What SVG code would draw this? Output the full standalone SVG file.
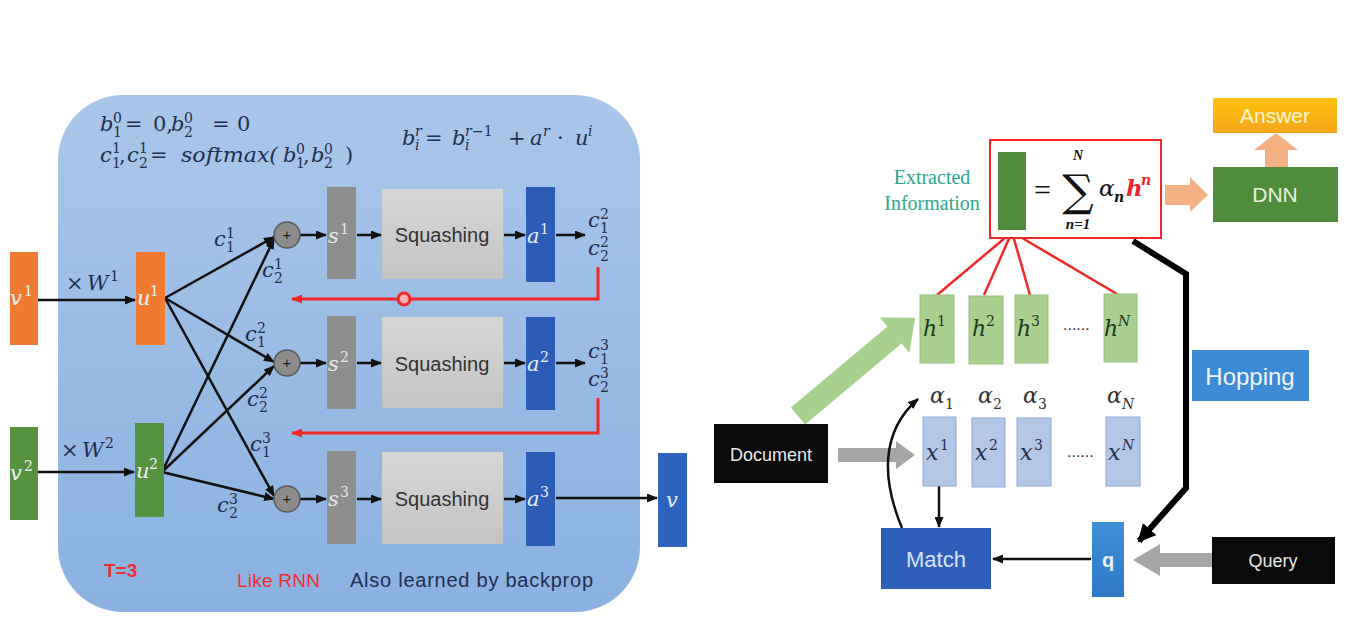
<svg xmlns="http://www.w3.org/2000/svg" width="1355" height="642" viewBox="0 0 1355 642">
<defs>
<linearGradient id="gPanel" x1="0" y1="0" x2="0" y2="1"><stop offset="0" stop-color="#a9c7ea"/><stop offset="1" stop-color="#8ab1e0"/></linearGradient>
<linearGradient id="gSq" x1="0" y1="0" x2="0" y2="1"><stop offset="0" stop-color="#d6d6d6"/><stop offset="1" stop-color="#c4c4c4"/></linearGradient>
<linearGradient id="gAns" x1="0" y1="0" x2="0" y2="1"><stop offset="0" stop-color="#ffc20e"/><stop offset="1" stop-color="#f4a51c"/></linearGradient>
<linearGradient id="gQ" x1="0" y1="0" x2="0" y2="1"><stop offset="0" stop-color="#3f8fd8"/><stop offset="1" stop-color="#2f78c6"/></linearGradient>
<marker id="ah" markerUnits="userSpaceOnUse" markerWidth="11" markerHeight="9" refX="10" refY="4.5" orient="auto"><path d="M0,0 L11,4.5 L0,9 z" fill="#111"/></marker>
<marker id="ahr" markerUnits="userSpaceOnUse" markerWidth="11" markerHeight="9" refX="10" refY="4.5" orient="auto"><path d="M0,0 L11,4.5 L0,9 z" fill="#f02828"/></marker>
<marker id="ahB" markerUnits="userSpaceOnUse" markerWidth="18" markerHeight="18" refX="16" refY="9" orient="auto"><path d="M0,0 L18,9 L0,18 z" fill="#000"/></marker>
<style>
.m{font-family:"DejaVu Serif",serif;font-style:italic;font-size:21px;fill:#1f2f4f}
.d{font-family:"DejaVu Serif",serif;font-style:normal;font-size:21px;fill:#1f2f4f}
.s{font-size:14px}
.w{fill:#eef2fa}
.sq{font-family:"Liberation Sans",sans-serif;font-size:20px;fill:#333;text-anchor:middle}
.sans{font-family:"Liberation Sans",sans-serif;text-anchor:middle}
.k{stroke:#111;stroke-width:2.5;fill:none}
.r{stroke:#f02828;stroke-width:3;fill:none}
.hb{fill:#a9d08e;stroke:#95c07a;stroke-width:1}
.xb{fill:#b4c7e7;stroke:#8eaadb;stroke-width:1}
.hl{font-family:"DejaVu Serif",serif;font-style:italic;font-size:22px;fill:#1e3a1e}
.xl{font-family:"DejaVu Serif",serif;font-style:italic;font-size:22px;fill:#1f2f4f}
.al{font-family:"DejaVu Serif",serif;font-style:italic;font-size:22px;fill:#333}
</style>
</defs>
<rect width="1355" height="642" fill="#fff"/>

<g id="panel">
<rect x="58" y="95" width="582" height="517" rx="65" fill="url(#gPanel)"/>
</g>

<g id="formulas">
<text class="m" x="100" y="131">b</text><text class="d s" x="113" y="123">0</text><text class="d s" x="113" y="137">1</text>
<text class="d" x="125" y="131">=</text><text class="d" x="153" y="131">0,</text>
<text class="m" x="171" y="131">b</text><text class="d s" x="184" y="123">0</text><text class="d s" x="184" y="137">2</text>
<text class="d" x="212" y="131">=</text><text class="d" x="237" y="131">0</text>

<text class="m" x="100" y="162">c</text><text class="d s" x="112" y="153">1</text><text class="d s" x="112" y="168">1</text>
<text class="d" x="119" y="162">,</text>
<text class="m" x="127" y="162">c</text><text class="d s" x="139" y="153">1</text><text class="d s" x="139" y="168">2</text>
<text class="d" x="150" y="162">=</text>
<text class="m" x="181" y="162" textLength="97" lengthAdjust="spacingAndGlyphs">softmax(</text>
<text class="m" x="283" y="162">b</text><text class="d s" x="296" y="154">0</text><text class="d s" x="296" y="168">1</text>
<text class="d" x="303" y="162">,</text>
<text class="m" x="311" y="162">b</text><text class="d s" x="324" y="154">0</text><text class="d s" x="324" y="168">2</text>
<text class="d" x="345" y="162">)</text>

<text class="m" x="402" y="145">b</text><text class="m s" x="415" y="136">r</text><text class="m s" x="415" y="150">i</text>
<text class="d" x="425" y="145">=</text>
<text class="m" x="452" y="145">b</text><text class="m s" x="465" y="136">r</text><text class="d s" x="472" y="136">−1</text><text class="m s" x="465" y="150">i</text>
<text class="d" x="508" y="145">+</text>
<text class="m" x="530" y="145">a</text><text class="m s" x="543" y="136">r</text>
<text class="d" x="557" y="145">·</text>
<text class="m" x="575" y="145">u</text><text class="m s" x="588" y="136">i</text>
</g>

<g id="connectors">
<line class="k" x1="38" y1="300" x2="135" y2="300" marker-end="url(#ah)"/>
<line class="k" x1="38" y1="472" x2="134" y2="472" marker-end="url(#ah)"/>
<line class="k" x1="165" y1="298" x2="274" y2="237" marker-end="url(#ah)"/>
<line class="k" x1="165" y1="298" x2="274" y2="362" marker-end="url(#ah)"/>
<line class="k" x1="165" y1="298" x2="274" y2="496" marker-end="url(#ah)"/>
<line class="k" x1="162" y1="472" x2="274" y2="239" marker-end="url(#ah)"/>
<line class="k" x1="162" y1="472" x2="274" y2="366" marker-end="url(#ah)"/>
<line class="k" x1="162" y1="472" x2="274" y2="499" marker-end="url(#ah)"/>
<line class="k" x1="300" y1="235" x2="326" y2="235" marker-end="url(#ah)"/>
<line class="k" x1="300" y1="363" x2="326" y2="363" marker-end="url(#ah)"/>
<line class="k" x1="300" y1="499" x2="326" y2="499" marker-end="url(#ah)"/>
<line class="k" x1="357" y1="235" x2="381" y2="235" marker-end="url(#ah)"/>
<line class="k" x1="357" y1="363" x2="381" y2="363" marker-end="url(#ah)"/>
<line class="k" x1="357" y1="499" x2="381" y2="499" marker-end="url(#ah)"/>
<line class="k" x1="504" y1="235" x2="525" y2="235" marker-end="url(#ah)"/>
<line class="k" x1="504" y1="363" x2="525" y2="363" marker-end="url(#ah)"/>
<line class="k" x1="504" y1="499" x2="525" y2="499" marker-end="url(#ah)"/>
<line class="k" x1="556" y1="235" x2="585" y2="235" marker-end="url(#ah)"/>
<line class="k" x1="556" y1="363" x2="585" y2="363" marker-end="url(#ah)"/>
<line class="k" x1="556" y1="498" x2="657" y2="498" marker-end="url(#ah)"/>
<path class="r" d="M598 267 V299 H292" marker-end="url(#ahr)"/>
<path class="r" d="M598 398 V433 H292" marker-end="url(#ahr)"/>
<circle cx="404" cy="299" r="6" fill="#ffb0b0" stroke="#f02828" stroke-width="3"/>

<line x1="1012" y1="232" x2="937" y2="295" stroke="#f02828" stroke-width="2.5"/>
<line x1="1012" y1="232" x2="984" y2="295" stroke="#f02828" stroke-width="2.5"/>
<line x1="1012" y1="232" x2="1030" y2="295" stroke="#f02828" stroke-width="2.5"/>
<line x1="1012" y1="232" x2="1117" y2="294" stroke="#f02828" stroke-width="2.5"/>
<polygon points="1165,185 1190,185 1190,177 1208,195 1190,212 1190,205 1165,205" fill="#f4b183"/>
<polygon points="1265,167 1265,150 1254,150 1276,133 1298,150 1288,150 1288,167" fill="#f4b183"/>
<polygon transform="translate(798,416) rotate(-40)" points="0,-11 126,-11 126,-23 153,0 126,23 126,11 0,11" fill="#a9d18e"/>
<polygon points="838,448 896,448 896,441 915,455 896,469 896,462 838,462" fill="#a6a6a6"/>
<polygon points="1212,553 1160,553 1160,544 1133,560 1160,576 1160,567 1212,567" fill="#a6a6a6"/>
<path d="M1133 241 L1186 274 L1186 488 L1139 541" stroke="#000" stroke-width="6" fill="none" stroke-linejoin="miter" marker-end="url(#ahB)"/>
<line class="k" x1="939" y1="486" x2="939" y2="527" marker-end="url(#ah)"/>
<line class="k" x1="1091" y1="559" x2="993" y2="559" marker-end="url(#ah)"/>
<path class="k" d="M902 528 C882 480 880 432 918 399" marker-end="url(#ah)"/>
</g>

<g id="v1"><rect x="10" y="252" width="28" height="93" fill="#f07a2f"/><text class="m w" x="10" y="305">v</text><text class="d s w" x="24" y="296">1</text></g>
<g id="v2"><rect x="10" y="427" width="28" height="93" fill="#559341"/><text class="m w" x="10" y="480">v</text><text class="d s w" x="24" y="471">2</text></g>
<g id="w1"><text class="d" x="66" y="290">×</text><text class="m" x="87" y="290">W</text><text class="d s" x="110" y="281">1</text></g>
<g id="w2"><text class="d" x="61" y="457">×</text><text class="m" x="82" y="457">W</text><text class="d s" x="105" y="448">2</text></g>
<g id="u1"><rect x="136" y="252" width="29" height="93" fill="#f07a2f"/><text class="m w" x="137" y="305">u</text><text class="d s w" x="150" y="296">1</text></g>
<g id="u2"><rect x="135" y="423" width="29" height="94" fill="#559341"/><text class="m w" x="136" y="478">u</text><text class="d s w" x="149" y="469">2</text></g>

<g id="c-labels">
<text class="m" x="214" y="246">c</text><text class="d s" x="226" y="238">1</text><text class="d s" x="226" y="252">1</text>
<text class="m" x="262" y="277">c</text><text class="d s" x="274" y="269">1</text><text class="d s" x="274" y="283">2</text>
<text class="m" x="245" y="341">c</text><text class="d s" x="257" y="333">2</text><text class="d s" x="257" y="347">1</text>
<text class="m" x="247" y="406">c</text><text class="d s" x="259" y="398">2</text><text class="d s" x="259" y="412">2</text>
<text class="m" x="250" y="451">c</text><text class="d s" x="262" y="443">3</text><text class="d s" x="262" y="457">1</text>
<text class="m" x="217" y="512">c</text><text class="d s" x="229" y="504">3</text><text class="d s" x="229" y="518">2</text>
<text class="m" x="588" y="227">c</text><text class="d s" x="600" y="219">2</text><text class="d s" x="600" y="233">1</text>
<text class="m" x="588" y="255">c</text><text class="d s" x="600" y="247">2</text><text class="d s" x="600" y="261">2</text>
<text class="m" x="588" y="358">c</text><text class="d s" x="600" y="350">3</text><text class="d s" x="600" y="364">1</text>
<text class="m" x="588" y="386">c</text><text class="d s" x="600" y="378">3</text><text class="d s" x="600" y="392">2</text>
</g>

<g id="plus1"><circle cx="287" cy="235" r="13" fill="#8c8c8c" stroke="#5a5a5a" stroke-width="1.5"/><text class="sans" x="287" y="240" font-size="15" fill="#222">+</text></g>
<g id="plus2"><circle cx="287" cy="363" r="13" fill="#8c8c8c" stroke="#5a5a5a" stroke-width="1.5"/><text class="sans" x="287" y="368" font-size="15" fill="#222">+</text></g>
<g id="plus3"><circle cx="287" cy="499" r="13" fill="#8c8c8c" stroke="#5a5a5a" stroke-width="1.5"/><text class="sans" x="287" y="504" font-size="15" fill="#222">+</text></g>

<g id="s1"><rect x="327" y="187" width="29" height="92" fill="#8e8e8e"/><text class="m" x="328" y="243" style="fill:#e6e6e6">s</text><text class="d s" x="340" y="234" style="fill:#e6e6e6">1</text></g>
<g id="s2"><rect x="327" y="316" width="29" height="93" fill="#8e8e8e"/><text class="m" x="328" y="371" style="fill:#e6e6e6">s</text><text class="d s" x="340" y="362" style="fill:#e6e6e6">2</text></g>
<g id="s3"><rect x="327" y="451" width="29" height="93" fill="#8e8e8e"/><text class="m" x="328" y="506" style="fill:#e6e6e6">s</text><text class="d s" x="340" y="497" style="fill:#e6e6e6">3</text></g>

<g id="sq1"><rect x="382" y="189" width="121" height="90" fill="url(#gSq)"/><text class="sq" x="442" y="242">Squashing</text></g>
<g id="sq2"><rect x="382" y="317" width="121" height="91" fill="url(#gSq)"/><text class="sq" x="442" y="371">Squashing</text></g>
<g id="sq3"><rect x="382" y="452" width="121" height="92" fill="url(#gSq)"/><text class="sq" x="442" y="506">Squashing</text></g>

<g id="a1"><rect x="526" y="187" width="29" height="95" fill="#2c5db6"/><text class="m" x="527" y="243" style="fill:#e8eefa">a</text><text class="d s" x="540" y="234" style="fill:#e8eefa">1</text></g>
<g id="a2"><rect x="526" y="317" width="29" height="93" fill="#2c5db6"/><text class="m" x="527" y="371" style="fill:#e8eefa">a</text><text class="d s" x="540" y="362" style="fill:#e8eefa">2</text></g>
<g id="a3"><rect x="526" y="452" width="29" height="94" fill="#2c5db6"/><text class="m" x="527" y="506" style="fill:#e8eefa">a</text><text class="d s" x="540" y="497" style="fill:#e8eefa">3</text></g>
<g id="vout"><rect x="658" y="453" width="29" height="94" fill="#2f63c0"/><text class="m" x="666" y="507" style="fill:#e8eefa">v</text></g>

<g id="notes">
<text x="104" y="577" font-family="Liberation Sans, sans-serif" font-weight="bold" font-size="19" fill="#f03030">T=3</text>
<text x="237" y="587" font-family="Liberation Sans, sans-serif" font-size="19" fill="#f03030" textLength="83">Like RNN</text>
<text x="350" y="587" font-family="Liberation Sans, sans-serif" font-size="20" fill="#1f3050" textLength="243">Also learned by backprop</text>
</g>

<g id="extracted">
<text x="932" y="184" font-family="Liberation Serif, serif" font-size="20" fill="#2aa889" text-anchor="middle">Extracted</text>
<text x="932" y="210" font-family="Liberation Serif, serif" font-size="20" fill="#2aa889" text-anchor="middle">Information</text>
</g>

<g id="sumbox">
<rect x="990" y="140" width="171" height="98" fill="#fff" stroke="#f02828" stroke-width="2"/>
<rect x="998" y="152" width="28" height="78" fill="#4f8d3a"/>
<text x="1034" y="200" font-family="Liberation Serif, serif" font-size="30" fill="#111">=</text>
<text x="1078" y="206" font-family="DejaVu Serif, serif" font-size="44" fill="#111" text-anchor="middle">∑</text>
<text x="1078" y="160" font-family="Liberation Serif, serif" font-style="italic" font-weight="bold" font-size="14" fill="#111" text-anchor="middle">N</text>
<text x="1078" y="229" font-family="Liberation Serif, serif" font-style="italic" font-weight="bold" font-size="15" fill="#111" text-anchor="middle">n=1</text>
<text x="1099" y="196" font-family="DejaVu Serif, serif" font-style="italic" font-size="23" fill="#111">α</text>
<text x="1114" y="202" font-family="DejaVu Serif, serif" font-style="italic" font-weight="bold" font-size="14" fill="#111">n</text>
<text x="1126" y="196" font-family="DejaVu Serif, serif" font-style="italic" font-weight="bold" font-size="23" fill="#e8262e">h</text>
<text x="1141" y="185" font-family="DejaVu Serif, serif" font-style="italic" font-weight="bold" font-size="14" fill="#e8262e">n</text>
</g>

<g id="answer"><rect x="1213" y="98" width="124" height="35" fill="url(#gAns)"/><text class="sans" x="1275" y="123" font-size="21" fill="#fff4d0">Answer</text></g>
<g id="dnn"><rect x="1213" y="167" width="125" height="55" fill="#4f8d3a"/><text class="sans" x="1275" y="202" font-size="21" fill="#e6f2de">DNN</text></g>

<g id="h1"><rect class="hb" x="920" y="295" width="34" height="68"/><text class="hl" x="923" y="336">h</text><text class="d s" x="937" y="326" style="fill:#1e3a1e">1</text></g>
<g id="h2"><rect class="hb" x="969" y="296" width="34" height="68"/><text class="hl" x="972" y="336">h</text><text class="d s" x="986" y="326" style="fill:#1e3a1e">2</text></g>
<g id="h3"><rect class="hb" x="1015" y="295" width="33" height="68"/><text class="hl" x="1017" y="336">h</text><text class="d s" x="1031" y="326" style="fill:#1e3a1e">3</text></g>
<text x="1063" y="330" font-family="Liberation Sans, sans-serif" font-size="16" fill="#333">......</text>
<g id="hN"><rect class="hb" x="1104" y="294" width="33" height="68"/><text class="hl" x="1104" y="336">h</text><text class="m s" x="1118" y="326" style="fill:#1e3a1e">N</text></g>

<g id="alphas">
<text class="al" x="930" y="403">α</text><text class="d s" x="945" y="409" style="fill:#333">1</text>
<text class="al" x="978" y="403">α</text><text class="d s" x="993" y="409" style="fill:#333">2</text>
<text class="al" x="1023" y="403">α</text><text class="d s" x="1038" y="409" style="fill:#333">3</text>
<text class="al" x="1107" y="403">α</text><text class="m s" x="1122" y="409" style="fill:#333">N</text>
</g>

<g id="x1"><rect class="xb" x="923" y="417" width="33" height="69"/><text class="xl" x="926" y="460">x</text><text class="d s" x="940" y="450">1</text></g>
<g id="x2"><rect class="xb" x="972" y="418" width="33" height="69"/><text class="xl" x="975" y="460">x</text><text class="d s" x="989" y="450">2</text></g>
<g id="x3"><rect class="xb" x="1017" y="418" width="34" height="68"/><text class="xl" x="1020" y="460">x</text><text class="d s" x="1034" y="450">3</text></g>
<text x="1067" y="457" font-family="Liberation Sans, sans-serif" font-size="16" fill="#333">......</text>
<g id="xN"><rect class="xb" x="1106" y="417" width="34" height="69"/><text class="xl" x="1108" y="460">x</text><text class="m s" x="1122" y="450">N</text></g>

<g id="document"><rect x="714" y="424" width="114" height="59" fill="#0a0a0a"/><text class="sans" x="771" y="461" font-size="18" fill="#e8e8e8">Document</text></g>
<g id="query"><rect x="1212" y="537" width="123" height="47" fill="#0a0a0a"/><text class="sans" x="1273" y="567" font-size="18" fill="#e8e8e8">Query</text></g>
<g id="match"><rect x="881" y="528" width="110" height="61" fill="#2d5fba"/><text class="sans" x="936" y="567" font-size="22" fill="#d8e6fa">Match</text></g>
<g id="q"><rect x="1092" y="522" width="32" height="75" fill="url(#gQ)"/><text class="sans" x="1108" y="567" font-size="20" font-weight="bold" fill="#e8f0fa">q</text></g>
<g id="hopping"><rect x="1192" y="350" width="117" height="51" fill="#3d8bd6"/><text class="sans" x="1250" y="385" font-size="24" fill="#f0f6ff">Hopping</text></g>
</svg>
